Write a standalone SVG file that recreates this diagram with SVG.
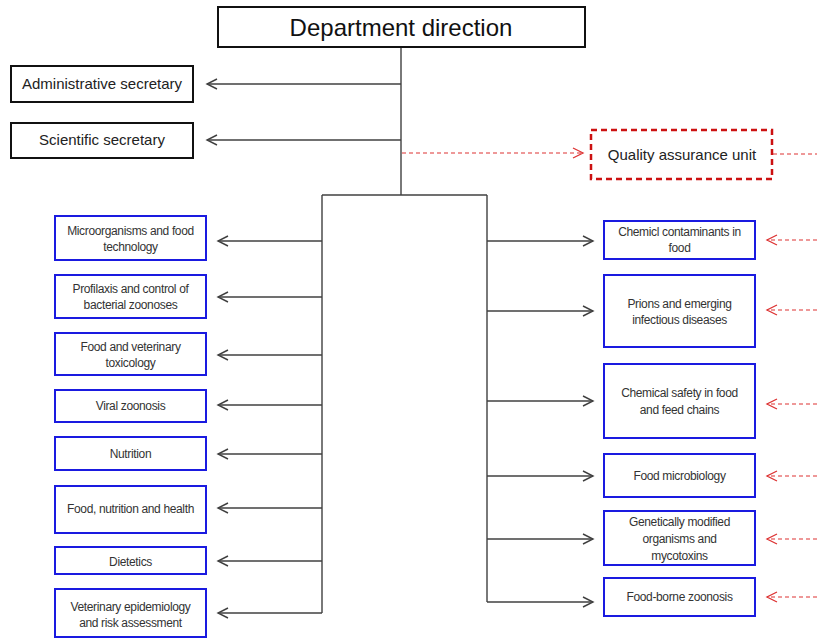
<svg xmlns="http://www.w3.org/2000/svg" width="817" height="639" viewBox="0 0 817 639">
<defs>
<marker id="ag" markerUnits="userSpaceOnUse" markerWidth="14" markerHeight="14" viewBox="-12 -7 14 14" refX="0" refY="0" orient="auto">
<path d="M-10,-5 L0,0 L-10,5" fill="none" stroke="#404040" stroke-width="1.4"/>
</marker>
<marker id="ar" markerUnits="userSpaceOnUse" markerWidth="14" markerHeight="14" viewBox="-12 -7 14 14" refX="0" refY="0" orient="auto">
<path d="M-10,-5 L0,0 L-10,5" fill="none" stroke="#d33" stroke-width="1.3"/>
</marker>
</defs>
<style>
.top{fill:#fff;stroke:#111;stroke-width:2}
.unit{fill:#fff;stroke:#1a1ae0;stroke-width:2}
.qa{fill:#fff;stroke:#cc1111;stroke-width:2.5;stroke-dasharray:6 4}
text{font-family:"Liberation Sans",Arial,sans-serif;fill:#222;text-anchor:middle}
.s{font-size:12px;letter-spacing:-0.35px;fill:#333}
.m{font-size:15px}
.l{font-size:24px;fill:#111}
.c{fill:none;stroke:#404040;stroke-width:1.4}
.cg{fill:none;stroke:#404040;stroke-width:1.4;marker-end:url(#ag)}
.cr{fill:none;stroke:#d33;stroke-width:1.2;stroke-dasharray:4 3;marker-end:url(#ar)}
.crn{fill:none;stroke:#d33;stroke-width:1.2;stroke-dasharray:4 3}
</style>
<g id="connectors">
<path class="c" d="M401,47 V195"/>
<path class="c" d="M322,195 H487"/>
<path class="c" d="M322,195 V613"/>
<path class="c" d="M487,195 V602"/>
<path class="cg" d="M401,84 H207"/>
<path class="cg" d="M401,140 H207"/>
<path class="cr" d="M402,153 H583"/>
<path class="crn" d="M773,154 H817"/>
<path class="cg" d="M322,241 H218"/>
<path class="cg" d="M322,297 H218"/>
<path class="cg" d="M322,355 H218"/>
<path class="cg" d="M322,405 H218"/>
<path class="cg" d="M322,454 H218"/>
<path class="cg" d="M322,508 H218"/>
<path class="cg" d="M322,561 H218"/>
<path class="cg" d="M322,613 H218"/>
<path class="cg" d="M487,241 H593"/>
<path class="cg" d="M487,311 H593"/>
<path class="cg" d="M487,401 H593"/>
<path class="cg" d="M487,476 H593"/>
<path class="cg" d="M487,539 H593"/>
<path class="cg" d="M487,602 H593"/>
<path class="cr" d="M817,240 H767"/>
<path class="cr" d="M817,310 H767"/>
<path class="cr" d="M817,404 H767"/>
<path class="cr" d="M817,476 H767"/>
<path class="cr" d="M817,539 H767"/>
<path class="cr" d="M817,597 H767"/>
</g>
<g id="department-direction"><rect class="top" x="218" y="7" width="367" height="40"/><text class="l" x="401" y="36">Department direction</text></g>
<g id="administrative-secretary"><rect class="top" x="11" y="66" width="182" height="36"/><text class="m" x="102" y="89">Administrative secretary</text></g>
<g id="scientific-secretary"><rect class="top" x="11" y="123" width="182" height="35"/><text class="m" x="102" y="145">Scientific secretary</text></g>
<g id="quality-assurance-unit"><rect class="qa" x="591" y="130" width="181" height="49"/><text class="m" x="682" y="160">Quality assurance unit</text></g>

<g id="microorganisms"><rect class="unit" x="55" y="216" width="151" height="44"/><text class="s" x="130.5" y="235">Microorganisms and food</text><text class="s" x="130.5" y="251">technology</text></g>
<g id="profilaxis"><rect class="unit" x="55" y="275" width="151" height="43"/><text class="s" x="130.5" y="293">Profilaxis and control of</text><text class="s" x="130.5" y="309">bacterial zoonoses</text></g>
<g id="food-vet-toxicology"><rect class="unit" x="55" y="333" width="151" height="42"/><text class="s" x="130.5" y="351">Food and veterinary</text><text class="s" x="130.5" y="367">toxicology</text></g>
<g id="viral-zoonosis"><rect class="unit" x="55" y="390" width="151" height="32"/><text class="s" x="130.5" y="410">Viral zoonosis</text></g>
<g id="nutrition"><rect class="unit" x="55" y="437" width="151" height="33"/><text class="s" x="130.5" y="458">Nutrition</text></g>
<g id="food-nutrition-health"><rect class="unit" x="55" y="486" width="151" height="47"/><text class="s" x="130.5" y="513">Food, nutrition and health</text></g>
<g id="dietetics"><rect class="unit" x="55" y="547" width="151" height="27"/><text class="s" x="130.5" y="566">Dietetics</text></g>
<g id="vet-epidemiology"><rect class="unit" x="55" y="589" width="151" height="48"/><text class="s" x="130.5" y="611">Veterinary epidemiology</text><text class="s" x="130.5" y="627">and risk assessment</text></g>

<g id="chemical-contaminants"><rect class="unit" x="604" y="221" width="151" height="38"/><text class="s" x="679.5" y="236">Chemicl contaminants in</text><text class="s" x="679.5" y="252">food</text></g>
<g id="prions"><rect class="unit" x="604" y="275" width="151" height="72"/><text class="s" x="679.5" y="308">Prions and emerging</text><text class="s" x="679.5" y="324">infectious diseases</text></g>
<g id="chemical-safety"><rect class="unit" x="604" y="364" width="151" height="74"/><text class="s" x="679.5" y="397">Chemical safety in food</text><text class="s" x="679.5" y="414">and feed chains</text></g>
<g id="food-microbiology"><rect class="unit" x="604" y="454" width="151" height="43"/><text class="s" x="679.5" y="480">Food microbiology</text></g>
<g id="gmo"><rect class="unit" x="604" y="511" width="151" height="54"/><text class="s" x="679.5" y="526">Genetically modified</text><text class="s" x="679.5" y="543">organisms and</text><text class="s" x="679.5" y="560">mycotoxins</text></g>
<g id="food-borne-zoonosis"><rect class="unit" x="604" y="578" width="151" height="38"/><text class="s" x="679.5" y="601">Food-borne zoonosis</text></g>
</svg>
